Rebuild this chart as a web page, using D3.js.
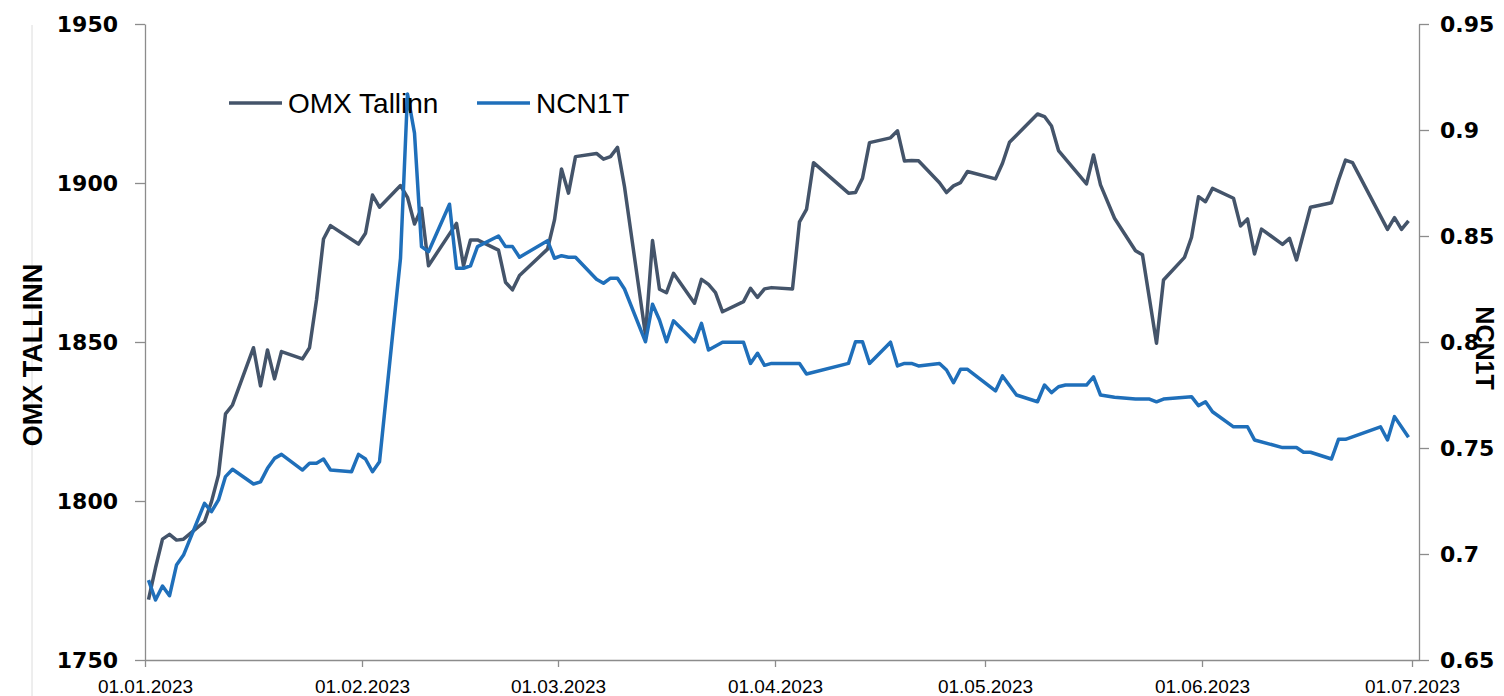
<!DOCTYPE html>
<html>
<head>
<meta charset="utf-8">
<script src="https://cdn.jsdelivr.net/npm/d3@7"></script>
<style>
  html, body { margin: 0; padding: 0; background: #fff; }
  svg { display: block; }
</style>
</head>
<body>
<div id="chart"></div>
<script>
// OMX Tallinn index (left axis)
var omxDates = [
  "2023-01-01","2023-01-02","2023-01-03","2023-01-04","2023-01-05","2023-01-06","2023-01-09","2023-01-10","2023-01-11","2023-01-12","2023-01-13","2023-01-16","2023-01-17","2023-01-18","2023-01-19","2023-01-20","2023-01-23","2023-01-24","2023-01-25","2023-01-26","2023-01-27","2023-01-31",
  "2023-02-01","2023-02-02","2023-02-03","2023-02-06","2023-02-07","2023-02-08","2023-02-09","2023-02-10","2023-02-14","2023-02-15","2023-02-16","2023-02-17","2023-02-20","2023-02-21","2023-02-22","2023-02-23","2023-02-27","2023-02-28",
  "2023-03-01","2023-03-02","2023-03-03","2023-03-06","2023-03-07","2023-03-08","2023-03-09","2023-03-10","2023-03-13","2023-03-14","2023-03-15","2023-03-16","2023-03-17","2023-03-20","2023-03-21","2023-03-22","2023-03-23","2023-03-24","2023-03-27","2023-03-28","2023-03-29","2023-03-30","2023-03-31",
  "2023-04-03","2023-04-04","2023-04-05","2023-04-06","2023-04-11","2023-04-12","2023-04-13","2023-04-14","2023-04-17","2023-04-18","2023-04-19","2023-04-20","2023-04-21","2023-04-24","2023-04-25","2023-04-26","2023-04-27","2023-04-28",
  "2023-05-02","2023-05-03","2023-05-04","2023-05-08","2023-05-09","2023-05-10","2023-05-11","2023-05-15","2023-05-16","2023-05-17","2023-05-19","2023-05-22","2023-05-23","2023-05-25","2023-05-26","2023-05-29","2023-05-30","2023-05-31",
  "2023-06-01","2023-06-02","2023-06-05","2023-06-06","2023-06-07","2023-06-08","2023-06-09","2023-06-12","2023-06-13","2023-06-14","2023-06-16","2023-06-19","2023-06-20","2023-06-21","2023-06-22","2023-06-27","2023-06-28","2023-06-29","2023-06-30"
];
var omxValues = [
  1769, 1779, 1788, 1789.5, 1787.7, 1788, 1793.5, 1799.8, 1808.2, 1827.4, 1830.2, 1848.2, 1836.2, 1847.5, 1838.4, 1847, 1844.7, 1848.2, 1863.2, 1882.4, 1886.6, 1880.8,
  1884.2, 1896.2, 1892.4, 1899.2, 1895.5, 1887.1, 1892, 1874, 1887.3, 1874, 1882.1, 1882.1, 1878.9, 1868.8, 1866.4, 1870.9, 1879.2, 1888.4,
  1904.4, 1896.8, 1908.3, 1909.3, 1907.5, 1908.3, 1911.2, 1898.8, 1852.2, 1881.9, 1866.6, 1865.5, 1871.6, 1862.2, 1869.7, 1868.1, 1865.5, 1859.5, 1862.7, 1866.9, 1864, 1866.7, 1867.1,
  1866.7, 1887.8, 1891.7, 1906.4, 1896.8, 1897, 1901.5, 1912.7, 1914.2, 1916.4, 1906.9, 1907.1, 1907, 1900.1, 1897, 1899.1, 1900.1, 1903.6,
  1901.3, 1906.2, 1912.8, 1921.7, 1920.9, 1917.9, 1910.2, 1899.7, 1908.8, 1899.4, 1888.9, 1878.7, 1877.4, 1849.6, 1869.5, 1876.6, 1882.9, 1895.7,
  1894.1, 1898.3, 1895.2, 1886.5, 1888.7, 1877.7, 1885.5, 1880.7, 1882.6, 1875.8, 1892.4, 1893.8, 1900.9, 1907.2, 1906.4, 1885.4, 1889.1, 1885.4, 1888.1
];

// NCN1T share price (right axis)
var ncnDates = [
  "2023-01-01","2023-01-02","2023-01-03","2023-01-04","2023-01-05","2023-01-06","2023-01-09","2023-01-10","2023-01-11","2023-01-12","2023-01-13","2023-01-16","2023-01-17","2023-01-18","2023-01-19","2023-01-20","2023-01-23","2023-01-24","2023-01-25","2023-01-26","2023-01-27","2023-01-30","2023-01-31",
  "2023-02-01","2023-02-02","2023-02-03","2023-02-06","2023-02-07","2023-02-08","2023-02-09","2023-02-10","2023-02-13","2023-02-14","2023-02-15","2023-02-16","2023-02-17","2023-02-20","2023-02-21","2023-02-22","2023-02-23","2023-02-27","2023-02-28",
  "2023-03-01","2023-03-02","2023-03-03","2023-03-06","2023-03-07","2023-03-08","2023-03-09","2023-03-10","2023-03-13","2023-03-14","2023-03-15","2023-03-16","2023-03-17","2023-03-20","2023-03-21","2023-03-22","2023-03-24","2023-03-27","2023-03-28","2023-03-29","2023-03-30","2023-03-31",
  "2023-04-03","2023-04-04","2023-04-05","2023-04-11","2023-04-12","2023-04-13","2023-04-14","2023-04-17","2023-04-18","2023-04-19","2023-04-20","2023-04-21","2023-04-24","2023-04-25","2023-04-26","2023-04-27","2023-04-28",
  "2023-05-02","2023-05-03","2023-05-05","2023-05-08","2023-05-09","2023-05-10","2023-05-11","2023-05-12","2023-05-15","2023-05-16","2023-05-17","2023-05-19","2023-05-22","2023-05-24","2023-05-25","2023-05-26","2023-05-30","2023-05-31",
  "2023-06-01","2023-06-02","2023-06-05","2023-06-07","2023-06-08","2023-06-12","2023-06-14","2023-06-15","2023-06-16","2023-06-19","2023-06-20","2023-06-21","2023-06-26","2023-06-27","2023-06-28","2023-06-30"
];
var ncnValues = [
  0.6877, 0.6783, 0.6849, 0.6803, 0.6948, 0.6995, 0.7239, 0.7200, 0.7255, 0.7365, 0.7400, 0.7330, 0.7340, 0.7404, 0.7451, 0.7470, 0.7396, 0.7428, 0.7428, 0.7448, 0.7396, 0.7388, 0.7470,
  0.7448, 0.7388, 0.7435, 0.8395, 0.917, 0.8985, 0.845, 0.8426, 0.865, 0.8348, 0.8348, 0.8359, 0.845, 0.85, 0.845, 0.845, 0.84, 0.8478, 0.8395,
  0.8407, 0.84, 0.84, 0.8296, 0.8277, 0.8301, 0.8301, 0.825, 0.8001, 0.8178, 0.8104, 0.8001, 0.81, 0.8001, 0.8088, 0.7962, 0.7999, 0.7999, 0.7899, 0.7947, 0.7890, 0.7899,
  0.7899, 0.7899, 0.7849, 0.7899, 0.8001, 0.8001, 0.7899, 0.7999, 0.7887, 0.7899, 0.7899, 0.7887, 0.7899, 0.7868, 0.7808, 0.7871, 0.7871,
  0.7769, 0.7840, 0.7750, 0.7718, 0.7797, 0.7761, 0.7789, 0.7797, 0.7797, 0.7836, 0.7750, 0.7739, 0.7731, 0.7731, 0.7718, 0.7731, 0.7742, 0.7700,
  0.7718, 0.7671, 0.7600, 0.7600, 0.7538, 0.7502, 0.7502, 0.7480, 0.7480, 0.7448, 0.7541, 0.7541, 0.7600, 0.7538, 0.7648, 0.7551
];

var leftTicks = [1750, 1800, 1850, 1900, 1950];
var rightTicks = [0.65, 0.7, 0.75, 0.8, 0.85, 0.9, 0.95];
var monthTicks = ["2023-01-01","2023-02-01","2023-03-01","2023-04-01","2023-05-01","2023-06-01","2023-07-01"];
var seriesNames = ["OMX Tallinn", "NCN1T"];
var axisTitles = ["OMX TALLINN", "NCN1T"];

(function() {
  var width = 1504, height = 696;
  var plotLeft = 145, plotRight = 1419, plotTop = 24, plotBottom = 660;
  var omxColor = "#44546a", ncnColor = "#1f6fba", axisColor = "#8c8c8c";
  var parse = d3.utcParse("%Y-%m-%d");

  var omx = omxDates.map(function(d, i) { return {date: parse(d), value: omxValues[i]}; });
  var ncn = ncnDates.map(function(d, i) { return {date: parse(d), value: ncnValues[i]}; });

  var x = d3.scaleUtc()
    .domain([parse("2023-01-01"), parse("2023-07-02")])
    .range([plotLeft, plotRight]);
  var yLeft = d3.scaleLinear().domain([1750, 1950]).range([plotBottom, plotTop]);
  var yRight = d3.scaleLinear().domain([0.65, 0.95]).range([plotBottom, plotTop]);

  // each daily point sits in the middle of its day slot
  var xMid = function(d) { return x(d3.utcHour.offset(d.date, 12)); };

  var svg = d3.select("#chart").append("svg")
    .attr("width", width)
    .attr("height", height);

  // faint border line at far left
  svg.append("line")
    .attr("x1", 32).attr("x2", 32)
    .attr("y1", 25).attr("y2", height)
    .attr("stroke", "#dcdcdc")
    .attr("stroke-width", 1);

  var styleAxis = function(g) {
    g.selectAll("path.domain").attr("stroke", axisColor).attr("stroke-width", 1.3);
    g.selectAll(".tick line").attr("stroke", axisColor).attr("stroke-width", 1.3);
  };

  // bottom axis
  var xAxis = svg.append("g")
    .attr("transform", "translate(0," + plotBottom + ")")
    .call(d3.axisBottom(x)
      .tickValues(monthTicks.map(parse))
      .tickFormat(d3.utcFormat("%d.%m.%Y"))
      .tickSize(7)
      .tickSizeOuter(0)
      .tickPadding(13));
  styleAxis(xAxis);
  xAxis.selectAll("text")
    .attr("font-family", "'Liberation Sans', Arial, sans-serif")
    .attr("font-size", "19px")
    .attr("fill", "#000");

  // left axis
  var leftAxis = svg.append("g")
    .attr("transform", "translate(" + plotLeft + ",0)")
    .call(d3.axisLeft(yLeft)
      .tickValues(leftTicks)
      .tickFormat(d3.format("d"))
      .tickSize(10)
      .tickSizeOuter(0)
      .tickPadding(17));
  styleAxis(leftAxis);
  leftAxis.selectAll("text")
    .attr("font-family", "'DejaVu Sans', Verdana, sans-serif")
    .attr("font-weight", "bold")
    .attr("font-size", "22px")
    .attr("fill", "#000");

  // right axis
  var rightAxis = svg.append("g")
    .attr("transform", "translate(" + plotRight + ",0)")
    .call(d3.axisRight(yRight)
      .tickValues(rightTicks)
      .tickFormat(function(d) { return String(d); })
      .tickSize(10)
      .tickSizeOuter(0)
      .tickPadding(11));
  styleAxis(rightAxis);
  rightAxis.selectAll("text")
    .attr("font-family", "'DejaVu Sans', Verdana, sans-serif")
    .attr("font-weight", "bold")
    .attr("font-size", "22px")
    .attr("fill", "#000");

  // axis titles
  svg.append("text")
    .attr("transform", "translate(42,355) rotate(-90)")
    .attr("text-anchor", "middle")
    .attr("font-family", "'Liberation Sans', Arial, sans-serif")
    .attr("font-weight", "bold")
    .attr("font-size", "27px")
    .attr("fill", "#000")
    .text(axisTitles[0]);

  svg.append("text")
    .attr("transform", "translate(1476,348) rotate(90)")
    .attr("text-anchor", "middle")
    .attr("font-family", "'Liberation Sans', Arial, sans-serif")
    .attr("font-weight", "bold")
    .attr("font-size", "25px")
    .attr("fill", "#000")
    .text(axisTitles[1]);

  // lines
  var omxLine = d3.line().x(xMid).y(function(d) { return yLeft(d.value); });
  var ncnLine = d3.line().x(xMid).y(function(d) { return yRight(d.value); });

  svg.append("path")
    .datum(omx)
    .attr("d", omxLine)
    .attr("fill", "none")
    .attr("stroke", omxColor)
    .attr("stroke-width", 3.5)
    .attr("stroke-linejoin", "round");

  svg.append("path")
    .datum(ncn)
    .attr("d", ncnLine)
    .attr("fill", "none")
    .attr("stroke", ncnColor)
    .attr("stroke-width", 3.5)
    .attr("stroke-linejoin", "round");

  // legend
  var legendItems = [
    {name: seriesNames[0], color: omxColor, x: 229},
    {name: seriesNames[1], color: ncnColor, x: 477}
  ];
  var legend = svg.selectAll("g.legend").data(legendItems).enter().append("g")
    .attr("class", "legend")
    .attr("transform", function(d) { return "translate(" + d.x + ",103)"; });
  legend.append("line")
    .attr("x1", 0).attr("x2", 53)
    .attr("y1", 0).attr("y2", 0)
    .attr("stroke", function(d) { return d.color; })
    .attr("stroke-width", 3.5);
  legend.append("text")
    .attr("x", 59)
    .attr("y", 10)
    .attr("font-family", "'Liberation Sans', Arial, sans-serif")
    .attr("font-size", "28px")
    .attr("fill", "#000")
    .text(function(d) { return d.name; });
})();
</script>
</body>
</html>
